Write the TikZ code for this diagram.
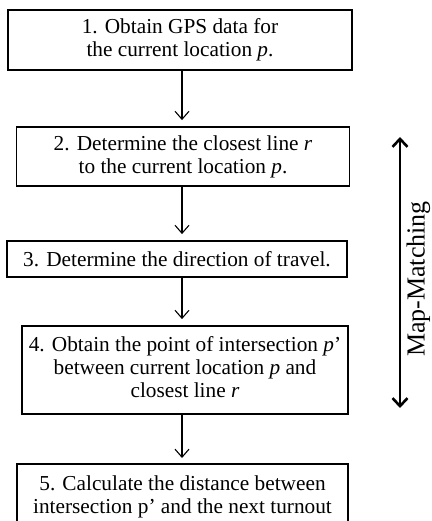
\documentclass[tikz,border=0pt]{standalone}
\usepackage{fontspec}
\setmainfont{Liberation Serif}
\usetikzlibrary{arrows.meta}
\begin{document}
\begin{tikzpicture}[x=1pt,y=1pt,
  stepbox/.style={draw, line width=1.8pt, rectangle, inner sep=0pt, align=center,
    font=\fontsize{21.3}{23}\selectfont},
  steptext/.style={inner sep=0pt, align=center, font=\fontsize{21.3}{23}\selectfont},
  frame/.style={line width=1.8pt},
  flow/.style={line width=1.1pt, -{Straight Barb[length=8pt,width=14pt,line width=1.1pt]}, shorten >=6pt},
  bigflow/.style={line width=2.6pt, {Straight Barb[length=8pt,width=15pt,line width=2.6pt]}-{Straight Barb[length=8pt,width=15pt,line width=2.6pt]}}
]
\useasboundingbox (0,0) rectangle (431,-521);
\clip (0,0) rectangle (431,-521);
\node[stepbox, minimum width=344pt, minimum height=60pt] (b1) at (180,-40)
  {1. Obtain GPS data for\\the current location \textit{p}.};
\node[stepbox, minimum width=333pt, minimum height=59pt] (b2) at (183,-156.5)
  {2. Determine the closest line \textit{r}\\to the current location \textit{p}.};
\node[stepbox, minimum width=340pt, minimum height=36pt] (b3) at (177,-259)
  {3. Determine the direction of travel.};
\node[stepbox, minimum width=326pt, minimum height=88pt] (b4) at (185,-370)
  {\raisebox{4pt}{\begin{tabular}{@{}c@{}}4. Obtain the point of intersection \textit{p}’\\between current location \textit{p} and\\closest line \textit{r}\end{tabular}}};
\node[steptext] (b5) at (182.5,-497)
  {5. Calculate the distance between\\intersection p’ and the next turnout};
\draw[frame] (17,-530) |- (348,-464) coordinate (b5top) -- (348,-530);
\coordinate (ax) at (182,0);
\draw[flow] (b1.south -| ax) -- (b2.north -| ax);
\draw[flow] (b2.south -| ax) -- (b3.north -| ax);
\draw[flow] (b3.south -| ax) -- (b4.north -| ax);
\draw[flow] (b4.south -| ax) -- (b5top -| ax);
\coordinate (mt) at (400,-137);
\coordinate (mb) at (400,-408);
\draw[bigflow] (mt) -- (mb);
\node[rotate=90, anchor=base, inner sep=0pt, font=\fontsize{26}{28}\selectfont] (mm) at (424.5,-279) {Map-Matching};
\end{tikzpicture}
\end{document}
